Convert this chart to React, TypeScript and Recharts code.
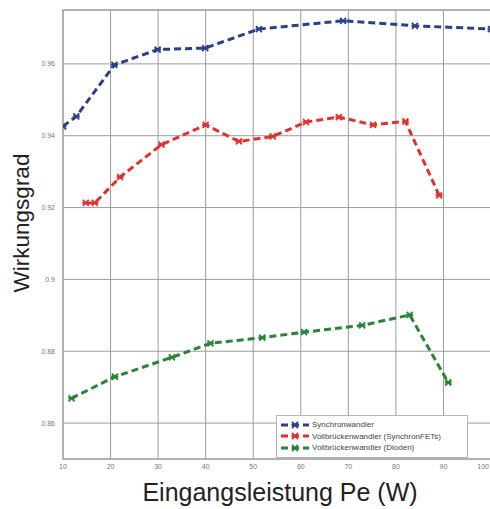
import { LineChart, Line, XAxis, YAxis, CartesianGrid, ReferenceArea } from "recharts";

const FONT = "'Liberation Sans', Arial, sans-serif";

const xTicks = [10, 20, 30, 40, 50, 60, 70, 80, 90, 100];
const yTicks = [0.86, 0.88, 0.9, 0.92, 0.94, 0.96];

const synchronX = [10, 12.8, 20.8, 29.9, 39.9, 51.2, 68.9, 84.0, 100];
const synchronY = [0.9426, 0.9454, 0.9597, 0.964, 0.9644, 0.9697, 0.972, 0.9706, 0.9697];

const fetsX = [14.8, 16.7, 22.0, 30.7, 40.0, 47.0, 54.1, 61.1, 68.0, 75.2, 82.0, 89.1];
const fetsY = [0.9213, 0.9213, 0.9285, 0.9375, 0.943, 0.9384, 0.9398, 0.9438, 0.9452, 0.943, 0.944, 0.9234];

const diodenX = [11.8, 20.9, 32.9, 41.0, 51.9, 60.7, 72.9, 82.9, 91.0];
const diodenY = [0.8669, 0.8729, 0.8783, 0.8822, 0.8838, 0.8853, 0.8872, 0.8901, 0.8713];

const series = [
  { name: "Synchronwandler", color: "#2c3f8e", xs: synchronX, ys: synchronY },
  { name: "Vollbrückenwandler (SynchronFETs)", color: "#e2302f", xs: fetsX, ys: fetsY },
  { name: "Vollbrückenwandler (Dioden)", color: "#268537", xs: diodenX, ys: diodenY },
];

function toPoints(xs: number[], ys: number[]) {
  return xs.map((x, i) => ({ x, y: ys[i] }));
}

function marker(color: string) {
  return (props: any) => {
    const { cx, cy, index } = props;
    if (cx == null || cy == null) return <g key={index} />;
    const d = `M${cx - 3},${cy - 3}L${cx + 3},${cy + 3}M${cx - 3},${cy + 3}L${cx + 3},${cy - 3}M${cx - 3.5},${cy}L${cx + 3.5},${cy}`;
    return <path key={index} d={d} stroke={color} strokeWidth={1.8} fill="none" />;
  };
}

// last tick sits on the right edge, so anchor it at its end to keep it visible
function XTick(props: any) {
  const { x, y, payload } = props;
  const last = payload.value === xTicks[xTicks.length - 1];
  return (
    <text
      x={last ? 489 : x}
      y={y}
      dy="0.71em"
      textAnchor={last ? "end" : "middle"}
      fontSize={7}
      fill="#777"
      fontFamily={FONT}
    >
      {payload.value}
    </text>
  );
}

function LegendBox() {
  return (
    <div
      style={{
        position: "absolute",
        left: 276,
        top: 415,
        width: 182,
        border: "1px solid #b5b5b5",
        background: "#fff",
        padding: "3px 4px",
        fontFamily: FONT,
        fontSize: 8,
        color: "#444",
      }}
    >
      {series.map((s) => (
        <div key={s.name} style={{ display: "flex", alignItems: "center", height: 11.5 }}>
          <svg width={28} height={8} style={{ marginRight: 3 }}>
            <line x1={0} y1={4} x2={28} y2={4} stroke={s.color} strokeWidth={3} strokeDasharray="7 4" />
            <path d="M11,1L17,7M11,7L17,1M10.5,4L17.5,4" stroke={s.color} strokeWidth={1.8} fill="none" />
          </svg>
          <span>{s.name}</span>
        </div>
      ))}
    </div>
  );
}

export default function App() {
  return (
    <div style={{ position: "absolute", left: 0, top: 0, width: 490, height: 509, background: "#fff", overflow: "hidden" }}>
      <LineChart width={491} height={509} margin={{ top: 10, right: 0, bottom: 0, left: 0 }}>
        <CartesianGrid stroke="#9c9c9c" strokeWidth={1} />
        <ReferenceArea x1={10} x2={100} y1={0.85} y2={0.975} fill="none" stroke="#a8a8a8" strokeWidth={1.5} />
        <XAxis
          type="number"
          dataKey="x"
          domain={[10, 100]}
          ticks={xTicks}
          allowDataOverflow
          height={50}
          axisLine={false}
          tickLine={false}
          tickSize={0}
          tickMargin={5}
          tick={<XTick />}
          label={{
            content: () => (
              <text x={280} y={501} textAnchor="middle" fontSize={25} fontFamily={FONT} fill="#222">
                Eingangsleistung Pe (W)
              </text>
            ),
          }}
        />
        <YAxis
          type="number"
          dataKey="y"
          domain={[0.85, 0.975]}
          ticks={yTicks}
          allowDataOverflow
          width={63}
          axisLine={false}
          tickLine={false}
          tickSize={0}
          tickMargin={8}
          tick={{ fontSize: 7, fill: "#777", fontFamily: FONT }}
          label={{
            content: () => (
              <text
                x={29}
                y={223}
                textAnchor="middle"
                fontSize={22.5}
                fontFamily={FONT}
                fill="#222"
                transform="rotate(-90 29 223)"
              >
                Wirkungsgrad
              </text>
            ),
          }}
        />
        {series.map((s) => (
          <Line
            key={s.name}
            name={s.name}
            data={toPoints(s.xs, s.ys)}
            dataKey="y"
            type="linear"
            stroke={s.color}
            strokeWidth={3}
            strokeDasharray="7 4"
            dot={marker(s.color)}
            activeDot={false}
            isAnimationActive={false}
          />
        ))}
      </LineChart>
      <LegendBox />
    </div>
  );
}
